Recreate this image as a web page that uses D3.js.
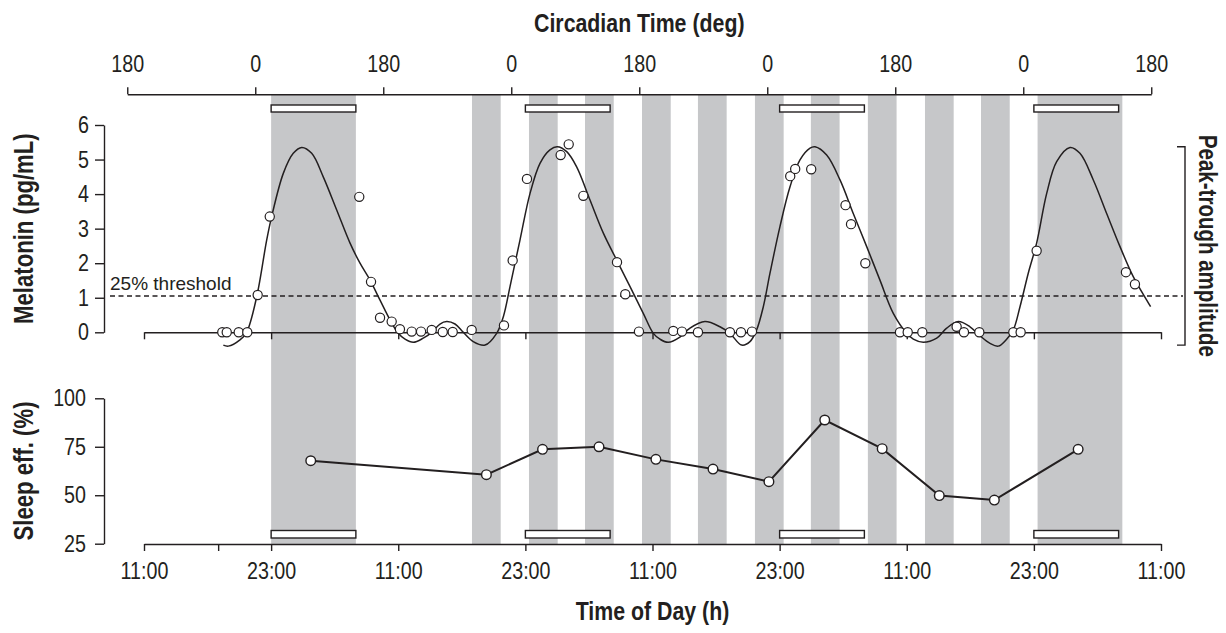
<!DOCTYPE html>
<html><head><meta charset="utf-8">
<script src="https://cdn.jsdelivr.net/npm/d3@7"></script>
<style>body{margin:0;background:#fff}svg{display:block}</style>
</head><body><svg id="c" width="1226" height="633"></svg>
<script>
// ---------- DATA ----------
// time is in hours after the first 11:00 tick
const timeTicks = [0, 12, 24, 36, 48, 60, 72, 84, 96];
const timeTickLabels = ["11:00", "23:00", "11:00", "23:00", "11:00", "23:00", "11:00", "23:00", "11:00"];
const timeMinorTicks = [7];

// circadian phase axis (degrees, cumulative) and its anchor in clock hours
const circTicks = [-180, 0, 180, 360, 540, 720, 900, 1080, 1260];
const circTickLabels = ["180", "0", "180", "0", "180", "0", "180", "0", "180"];
const circDomain = [-180, 1260];
const circHours = [-1.58, 95.08];

// dark (sleep opportunity) episodes [start, end] in hours
const darkBands = [
  [12.0, 20.0],
  [30.96, 33.67], [36.34, 39.05], [41.63, 44.34], [47.01, 49.72], [52.29, 55.0],
  [57.67, 60.38], [62.95, 65.66], [68.33, 71.04], [73.72, 76.43], [79.01, 81.72],
  [84.35, 92.35]
];
// scheduled nights (white bars)
const nightBars = [[12, 20], [36, 44], [60, 68], [84, 92]];

// melatonin samples [hour, pg/mL]
const melHours = [7.39, 7.81, 8.94, 9.75, 10.73, 11.87, 20.32, 21.43, 22.28, 23.38, 24.16, 25.27, 26.15, 27.16, 28.2, 29.14, 30.93,
  33.98, 34.8, 36.15, 39.33, 40.09, 41.47, 44.65, 45.43, 46.72, 49.96, 50.78, 52.29, 55.31, 56.35, 57.39,
  61.0, 61.47, 62.98, 66.22, 66.74, 68.09, 71.36, 72.09, 73.47, 76.71, 77.4, 78.85, 82.06, 82.75,
  84.26, 92.69, 93.54];
const melValues = [0, 0, 0, 0, 1.08, 3.35, 3.92, 1.46, 0.42, 0.31, 0.09, 0.02, 0.02, 0.07, 0.01, 0.01, 0.07,
  0.2, 2.08, 4.44, 5.13, 5.44, 3.95, 2.03, 1.10, 0.02, 0.04, 0.02, 0, 0, 0, 0.02,
  4.52, 4.73, 4.72, 3.68, 3.13, 2.0, 0, 0, 0, 0.16, 0, 0, 0, 0,
  2.36, 1.74, 1.39];

// fitted melatonin rhythm [hour, pg/mL]
const fitHours = [7.49, 7.96, 9.06, 9.69, 10.64, 11.58, 12.05, 13.15, 14.09, 14.89, 15.83, 16.92, 18.19, 19.45, 20.39, 21.34,
  22.28, 23.22, 24.0, 24.64, 25.42, 26.36, 27.16, 27.94, 28.57, 29.36, 30.14, 31.08, 32.19, 33.29, 33.92, 34.55,
  35.49, 36.44, 37.38, 38.32, 39.01, 39.9, 40.84, 42.1, 43.36, 44.62, 45.88, 47.13, 48.08, 48.71, 49.49, 50.59,
  51.54, 52.95, 54.37, 55.31, 56.42, 57.2, 57.83, 58.46, 59.09, 60.03, 60.98, 61.92, 62.87, 63.34, 64.44, 65.7,
  66.95, 68.22, 69.47, 70.73, 72.0, 72.62, 73.56, 74.83, 75.77, 76.86, 77.97, 78.91, 79.86, 80.64, 81.43, 82.06,
  82.69, 83.47, 84.26, 85.21, 86.15, 87.41, 88.35, 89.61, 90.87, 92.13, 93.38, 94.65, 95.02];
const fitValues = [-0.37, -0.40, -0.22, 0, 1.03, 2.67, 3.35, 4.6, 5.18, 5.35, 5.18, 4.5, 3.54, 2.58, 2.0, 1.51,
  0.93, 0.36, -0.03, -0.2, -0.29, -0.17, 0, 0.24, 0.31, 0.24, 0, -0.27, -0.37, -0.03, 0.45, 1.32,
  2.67, 4.02, 4.89, 5.28, 5.37, 5.23, 4.79, 3.83, 2.87, 2.09, 1.32, 0.55, -0.03, -0.2, -0.29, -0.14,
  0.12, 0.31, 0.16, -0.03, -0.37, -0.27, 0.07, 0.74, 1.71, 3.06, 4.21, 4.99, 5.33, 5.37, 5.13, 4.41,
  3.44, 2.48, 1.51, 0.55, -0.03, -0.2, -0.29, -0.17, 0.12, 0.31, 0.16, -0.1, -0.32, -0.4, -0.2, 0.07,
  0.74, 1.71, 2.58, 4.02, 4.94, 5.35, 5.18, 4.41, 3.44, 2.48, 1.61, 0.93, 0.74];

const threshold = 1.05;
const fitPeak = 5.37, fitTrough = -0.37;
const melTicks = [0, 1, 2, 3, 4, 5, 6];

// sleep efficiency per sleep episode [hour, %]
const sleepHours = [15.74, 32.32, 37.62, 42.95, 48.32, 53.71, 58.99, 64.26, 69.68, 75.07, 80.27, 88.18];
const sleepValues = [67.8, 60.6, 73.7, 75.0, 68.5, 63.5, 57.0, 88.8, 74.0, 49.8, 47.5, 73.7];
const sleepTicks = [25, 50, 75, 100];

// ---------- DRAW ----------
const INK = "#231f20", GREY = "#c6c7c9";
const SANS = "'Liberation Sans',Arial,Helvetica,sans-serif";
const NARROW_FACTOR = 0.82;
const svg = d3.select("#c");

// squeeze text horizontally to imitate a condensed face
function condense(sel) {
  sel.each(function () {
    const w = this.getComputedTextLength();
    if (w > 0) d3.select(this).attr("textLength", w * NARROW_FACTOR).attr("lengthAdjust", "spacingAndGlyphs");
  });
}

const x = d3.scaleLinear().domain([0, 96]).range([144, 1161]);
const xc = d3.scaleLinear().domain(circDomain).range(circHours.map(x));
const yMel = d3.scaleLinear().domain([0, 6]).range([332.3, 125]);
const ySleep = d3.scaleLinear().domain([25, 100]).range([543.7, 398.3]);

const bandTop = 95, bandBottom = 544;

// dark bands
svg.append("g").selectAll("rect").data(darkBands).join("rect")
  .attr("x", d => x(d[0])).attr("width", d => x(d[1]) - x(d[0]))
  .attr("y", bandTop).attr("height", bandBottom - bandTop)
  .attr("fill", GREY);

// night bars top & bottom
[[105, 7], [530.5, 7.5]].forEach(([yy, hh]) => {
  svg.append("g").selectAll("rect").data(nightBars).join("rect")
    .attr("x", d => x(d[0])).attr("width", d => x(d[1]) - x(d[0]))
    .attr("y", yy).attr("height", hh)
    .attr("fill", "#fff").attr("stroke", INK).attr("stroke-width", 1.4);
});

function styleAxis(g, size) {
  g.selectAll("path.domain").attr("stroke", INK).attr("stroke-width", 1.4);
  g.selectAll(".tick line").attr("stroke", INK).attr("stroke-width", 1.4);
  g.selectAll("text").attr("fill", INK).style("font-family", SANS).style("font-size", size + "px");
}
function title(sel, size) {
  return sel.attr("text-anchor", "middle").attr("fill", INK)
    .style("font-family", SANS).style("font-weight", "bold").style("font-size", size + "px");
}

// top circadian axis
const gTop = svg.append("g").attr("transform", "translate(0,94.3)")
  .call(d3.axisTop(xc).tickValues(circTicks).tickSize(7).tickSizeOuter(0)
    .tickFormat((d, i) => circTickLabels[i]));
styleAxis(gTop, 24);
gTop.selectAll("text").attr("y", -22.6).attr("dy", 0);
condense(gTop.selectAll("text"));

title(svg.append("text").attr("x", xc((circDomain[0] + circDomain[1]) / 2)).attr("y", 31.5), 26)
  .text("Circadian Time (deg)").call(condense);

// melatonin y axis
const gMelY = svg.append("g").attr("transform", "translate(104,0)")
  .call(d3.axisLeft(yMel).tickValues(melTicks).tickSize(9).tickPadding(6).tickSizeOuter(0)
    .tickFormat(d3.format("d")));
styleAxis(gMelY, 24);
condense(gMelY.selectAll("text"));

// melatonin zero line with day ticks
const gMelX = svg.append("g").attr("transform", `translate(0,${yMel(0)})`)
  .call(d3.axisBottom(x).tickValues(timeTicks).tickSize(7).tickSizeOuter(0).tickFormat(""));
styleAxis(gMelX, 24);

// threshold
svg.append("line").attr("x1", 110).attr("x2", 1183)
  .attr("y1", yMel(threshold)).attr("y2", yMel(threshold))
  .attr("stroke", INK).attr("stroke-width", 1.3).attr("stroke-dasharray", "5,3.5");
svg.append("text").attr("x", 110).attr("y", yMel(threshold) - 6)
  .attr("fill", INK).style("font-family", SANS).style("font-size", "19px")
  .text("25% threshold");

// fitted curve
const fit = fitHours.map((h, i) => [h, fitValues[i]]);
svg.append("path").datum(fit)
  .attr("d", d3.line().x(d => x(d[0])).y(d => yMel(d[1])).curve(d3.curveCatmullRom.alpha(0.5)))
  .attr("fill", "none").attr("stroke", INK).attr("stroke-width", 1.5);

// melatonin points
svg.append("g").selectAll("circle").data(melHours.map((h, i) => [h, melValues[i]])).join("circle")
  .attr("cx", d => x(d[0])).attr("cy", d => yMel(d[1])).attr("r", 4.6)
  .attr("fill", "#fff").attr("stroke", INK).attr("stroke-width", 1.2);

// y title melatonin
title(svg.append("text").attr("transform", `translate(33,${(yMel(0) + yMel(6)) / 2}) rotate(-90)`), 27)
  .text("Melatonin (pg/mL)").call(condense);

// peak-trough bracket
const bx = 1185;
svg.append("path")
  .attr("d", `M${bx - 8},${yMel(fitPeak)}H${bx}V${yMel(fitTrough)}H${bx - 8}`)
  .attr("fill", "none").attr("stroke", INK).attr("stroke-width", 1.4);
title(svg.append("text").attr("transform", `translate(1199,${(yMel(fitPeak) + yMel(fitTrough)) / 2}) rotate(90)`), 25)
  .text("Peak-trough amplitude").call(condense);

// sleep efficiency y axis
const gSY = svg.append("g").attr("transform", "translate(104,0)")
  .call(d3.axisLeft(ySleep).tickValues(sleepTicks).tickSize(9).tickPadding(9).tickSizeOuter(0)
    .tickFormat(d3.format("d")));
styleAxis(gSY, 24);
condense(gSY.selectAll("text"));

// bottom time axis
const gBX = svg.append("g").attr("transform", "translate(0,544)")
  .call(d3.axisBottom(x).tickValues(timeTicks.concat(timeMinorTicks)).tickSize(7).tickSizeOuter(0)
    .tickFormat(d => { const i = timeTicks.indexOf(d); return i >= 0 ? timeTickLabels[i] : ""; }));
styleAxis(gBX, 24);
gBX.selectAll("text").attr("y", 35.3).attr("dy", 0);
condense(gBX.selectAll("text"));

title(svg.append("text").attr("x", (x.range()[0] + x.range()[1]) / 2).attr("y", 620), 26)
  .text("Time of Day (h)").call(condense);

// sleep line + points
const sl = sleepHours.map((h, i) => [h, sleepValues[i]]);
svg.append("path").datum(sl)
  .attr("d", d3.line().x(d => x(d[0])).y(d => ySleep(d[1])))
  .attr("fill", "none").attr("stroke", INK).attr("stroke-width", 2);
svg.append("g").selectAll("circle").data(sl).join("circle")
  .attr("cx", d => x(d[0])).attr("cy", d => ySleep(d[1])).attr("r", 4.8)
  .attr("fill", "#fff").attr("stroke", INK).attr("stroke-width", 1.4);

title(svg.append("text").attr("transform", `translate(33,${(ySleep(25) + ySleep(100)) / 2}) rotate(-90)`), 27)
  .text("Sleep eff. (%)").call(condense);
</script></body></html>
